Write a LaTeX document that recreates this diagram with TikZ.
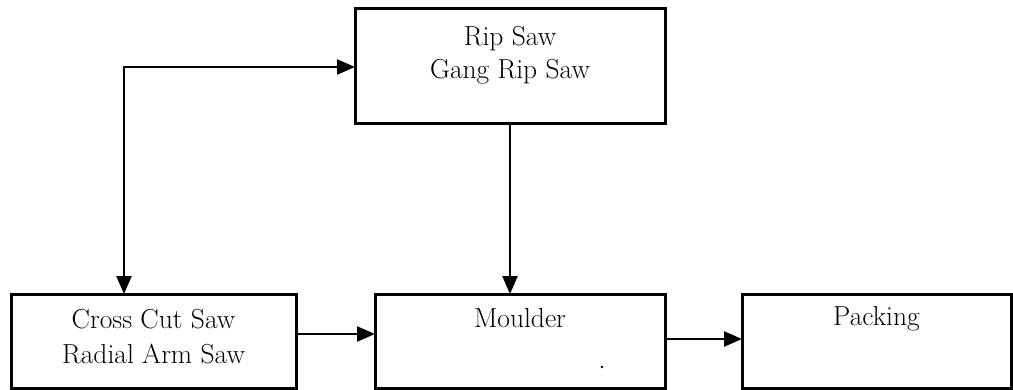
\documentclass[tikz,border=0pt]{standalone}
\usetikzlibrary{arrows.meta}
\begin{document}
\begin{tikzpicture}[x=1pt,y=-1pt,
  stage/.style={draw,line width=3pt,inner sep=0pt,outer sep=0pt,anchor=north west},
  stagetext/.style={anchor=base,inner sep=0pt,font=\fontsize{27.5}{33}\selectfont},
  tip/.tip={Triangle[length=18pt,width=15pt]},
  flow/.style={line width=2.4pt,-tip},
  twoway/.style={line width=2.4pt,tip-tip}]
\useasboundingbox (0,0) rectangle (1013,389);

% process boxes
\node[stage,minimum width=310pt,minimum height=115pt] (rip) at (355,8) {};
\node[stage,minimum width=285pt,minimum height=94pt] (cross) at (11,294) {};
\node[stage,minimum width=290pt,minimum height=94pt] (moulder) at (375,294) {};
\node[stage,minimum width=269pt,minimum height=94pt] (packing) at (742,294) {};

% box captions
\node[stagetext] (ripA) at (510,45) {Rip Saw};
\node[stagetext] (ripB) at (510,78) {Gang Rip Saw};
\node[stagetext] (crossA) at (153.5,328) {Cross Cut Saw};
\node[stagetext] (crossB) at (153.5,363) {Radial Arm Saw};
\node[stagetext] (moulderA) at (520,327) {Moulder};
\node[stagetext] (packingA) at (876.5,325) {Packing};

% connectors
\coordinate (bend) at (124,67);
\coordinate (feedA) at (0,334);
\coordinate (feedB) at (0,339);
\draw[twoway] (cross.north -| bend) |- (rip.west |- bend);
\draw[flow] (rip.south) -- (rip.south |- moulder.north);
\draw[flow] (cross.east |- feedA) -- (moulder.west |- feedA);
\draw[flow] (moulder.east |- feedB) -- (packing.west |- feedB);

% small speck inside the moulder box
\fill (602,367) circle (1.3pt);
\end{tikzpicture}
\end{document}
